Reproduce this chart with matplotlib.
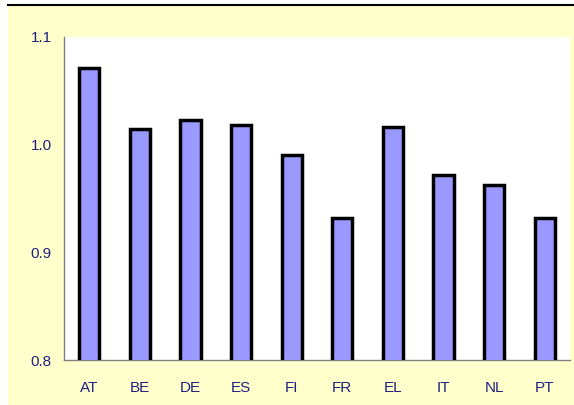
import matplotlib
matplotlib.use('Agg')
import matplotlib.pyplot as plt
from matplotlib.patches import Rectangle
from matplotlib.lines import Line2D

countries = ['AT', 'BE', 'DE', 'ES', 'FI', 'FR', 'EL', 'IT', 'NL', 'PT']
values = [1.071, 1.015, 1.023, 1.018, 0.990, 0.932, 1.016, 0.972, 0.963, 0.932]
yticks = [0.8, 0.9, 1.0, 1.1]

plt.rcParams['font.family'] = ['Liberation Sans', 'DejaVu Sans']
label_color = '#1f1f80'

fig = plt.figure(figsize=(5.74, 4.05), dpi=100)
fig.patch.set_facecolor('white')
# yellow panel and the black rule along its top
fig.patches.append(Rectangle((8 / 574, 0.0), 1 - 8 / 574, 1 - 5 / 405,
                             transform=fig.transFigure, facecolor='#ffffcc',
                             edgecolor='none', zorder=-10))
fig.lines.append(Line2D([8 / 574, 1.0], [1 - 5 / 405, 1 - 5 / 405],
                        transform=fig.transFigure, color='black', lw=1.5,
                        zorder=-5))

ax = fig.add_axes([64 / 574, 1 - 360 / 405, 506 / 574, 323 / 405])
ax.set_facecolor('white')
x = range(len(countries))
ax.bar(x, values, width=0.4, bottom=0, color='#9999ff', edgecolor='black',
       linewidth=2.5, zorder=3)
ax.set_xlim(-0.5, len(countries) - 0.5)
ax.set_ylim(0.8, 1.1)
ax.set_yticks(yticks)
ax.set_yticklabels([f'{v:.1f}' for v in yticks])
ax.set_xticks(list(x))
ax.set_xticklabels(countries)
ax.tick_params(length=0, labelsize=11, labelcolor=label_color)
ax.tick_params(axis='y', pad=9)
ax.tick_params(axis='x', pad=15)
for s in ['top', 'right']:
    ax.spines[s].set_visible(False)
for s in ['left', 'bottom']:
    ax.spines[s].set_color('#808080')
    ax.spines[s].set_linewidth(1.0)

fig.savefig('out.png', dpi=100, facecolor=fig.get_facecolor())
